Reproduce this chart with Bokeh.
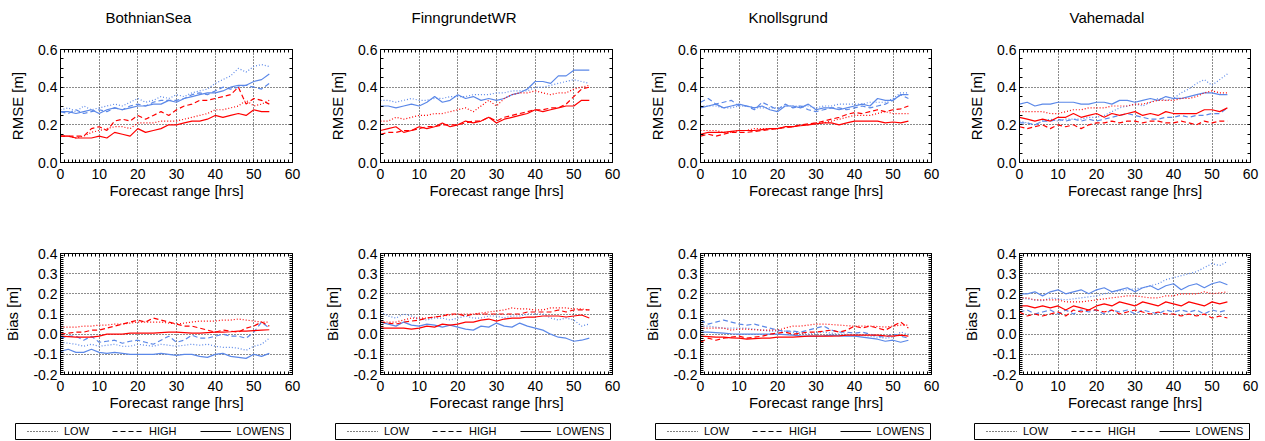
from bokeh.plotting import figure
from bokeh.models import (Range1d, LinearAxis, FixedTicker, PrintfTickFormatter,
                          CustomJSTickFormatter, Legend, LegendItem, ColumnDataSource)
from bokeh.layouts import column, row
from bokeh.embed import file_html
from bokeh.resources import INLINE

# ---------------- data ----------------
HOURS = [0, 2, 4, 6, 8, 10, 12, 14, 16, 18, 20, 22, 24, 26, 28, 30, 32, 34, 36, 38, 40, 42, 44, 46, 48, 50, 52, 54]
STATIONS = ["BothnianSea", "FinngrundetWR", "Knollsgrund", "Vahemadal"]
SERIES_LABELS = ["LOW", "HIGH", "LOWENS"]
X_TICKS = [0, 10, 20, 30, 40, 50, 60]
RMSE_TICKS = [0.0, 0.2, 0.4, 0.6]
BIAS_TICKS = [-0.2, -0.1, 0.0, 0.1, 0.2, 0.3, 0.4]

# BothnianSea
BS_RMSE_BLUE_LOW = [0.28,0.29,0.27,0.30,0.28,0.29,0.30,0.31,0.30,0.32,0.34,0.32,0.33,0.35,0.34,0.36,0.35,0.37,0.38,0.39,0.42,0.44,0.46,0.50,0.48,0.51,0.52,0.51]
BS_RMSE_BLUE_HIGH = [0.27,0.26,0.28,0.26,0.27,0.28,0.27,0.29,0.28,0.30,0.31,0.30,0.32,0.33,0.33,0.33,0.34,0.36,0.37,0.36,0.38,0.40,0.39,0.40,0.41,0.40,0.39,0.42]
BS_RMSE_BLUE_ENS = [0.27,0.27,0.26,0.27,0.28,0.26,0.28,0.29,0.28,0.29,0.30,0.30,0.31,0.31,0.33,0.32,0.34,0.35,0.36,0.37,0.37,0.38,0.40,0.41,0.41,0.43,0.44,0.47]
BS_RMSE_RED_LOW = [0.14,0.14,0.13,0.14,0.16,0.17,0.18,0.19,0.19,0.18,0.21,0.21,0.21,0.22,0.22,0.22,0.23,0.24,0.25,0.26,0.28,0.28,0.29,0.30,0.33,0.30,0.31,0.33]
BS_RMSE_RED_HIGH = [0.14,0.14,0.14,0.14,0.18,0.19,0.17,0.22,0.23,0.22,0.25,0.23,0.25,0.27,0.25,0.28,0.30,0.31,0.33,0.33,0.34,0.35,0.36,0.40,0.31,0.34,0.33,0.31]
BS_RMSE_RED_ENS = [0.14,0.14,0.13,0.13,0.13,0.14,0.13,0.16,0.15,0.14,0.18,0.16,0.17,0.18,0.20,0.20,0.21,0.22,0.22,0.23,0.25,0.24,0.25,0.26,0.25,0.28,0.27,0.27]
BS_BIAS_BLUE_LOW = [-0.04,-0.045,-0.05,-0.06,-0.05,-0.06,-0.055,-0.05,-0.06,-0.06,-0.05,-0.055,-0.06,-0.05,-0.055,-0.06,-0.055,-0.05,-0.055,-0.05,-0.06,-0.065,-0.065,-0.07,-0.08,-0.06,-0.05,-0.02]
BS_BIAS_BLUE_HIGH = [-0.02,-0.01,-0.01,-0.03,-0.01,-0.04,-0.035,-0.03,-0.045,-0.035,-0.03,-0.04,-0.05,-0.03,-0.01,-0.04,-0.03,-0.005,-0.02,-0.02,-0.01,0.0,-0.01,-0.01,-0.02,0.01,0.06,0.03]
BS_BIAS_BLUE_ENS = [-0.085,-0.075,-0.09,-0.09,-0.075,-0.09,-0.095,-0.09,-0.095,-0.10,-0.10,-0.10,-0.10,-0.095,-0.10,-0.105,-0.10,-0.10,-0.11,-0.115,-0.10,-0.095,-0.11,-0.115,-0.12,-0.10,-0.11,-0.095]
BS_BIAS_RED_LOW = [0.035,0.035,0.035,0.04,0.04,0.045,0.045,0.05,0.05,0.055,0.06,0.06,0.06,0.06,0.055,0.05,0.055,0.06,0.065,0.065,0.065,0.07,0.07,0.075,0.07,0.065,0.06,0.06]
BS_BIAS_RED_HIGH = [0.0,0.005,0.01,0.01,0.02,0.02,0.03,0.04,0.05,0.06,0.07,0.06,0.08,0.07,0.06,0.05,0.04,0.04,0.03,0.02,0.01,0.02,0.015,0.01,0.03,0.04,0.06,0.04]
BS_BIAS_RED_ENS = [-0.01,-0.012,-0.015,-0.015,-0.015,-0.01,0.0,0.0,0.0,0.005,0.005,0.005,0.005,0.008,0.01,0.01,0.008,0.005,0.005,0.008,0.01,0.01,0.012,0.015,0.015,0.018,0.02,0.022]

# FinngrundetWR
FG_RMSE_BLUE_LOW = [0.33,0.33,0.32,0.33,0.34,0.33,0.33,0.34,0.34,0.35,0.35,0.35,0.36,0.36,0.36,0.37,0.37,0.38,0.38,0.38,0.40,0.40,0.41,0.42,0.43,0.44,0.43,0.42]
FG_RMSE_BLUE_HIGH = None
FG_RMSE_BLUE_ENS = [0.30,0.30,0.29,0.30,0.31,0.30,0.32,0.35,0.32,0.33,0.36,0.34,0.35,0.33,0.34,0.33,0.34,0.36,0.37,0.39,0.43,0.43,0.42,0.46,0.46,0.49,0.49,0.49]
FG_RMSE_RED_LOW = [0.22,0.22,0.24,0.23,0.24,0.25,0.25,0.26,0.26,0.27,0.28,0.29,0.27,0.30,0.33,0.30,0.34,0.36,0.37,0.37,0.38,0.37,0.36,0.37,0.37,0.39,0.40,0.41]
FG_RMSE_RED_HIGH = [0.15,0.16,0.16,0.17,0.17,0.18,0.19,0.19,0.20,0.20,0.20,0.21,0.22,0.22,0.24,0.22,0.24,0.25,0.26,0.27,0.28,0.28,0.29,0.29,0.31,0.35,0.39,0.40]
FG_RMSE_RED_ENS = [0.17,0.18,0.19,0.16,0.17,0.19,0.18,0.19,0.21,0.19,0.20,0.22,0.21,0.22,0.24,0.21,0.23,0.24,0.25,0.26,0.28,0.27,0.28,0.29,0.30,0.30,0.33,0.33]
FG_BIAS_BLUE_LOW = [0.11,0.09,0.08,0.10,0.09,0.075,0.07,0.08,0.08,0.07,0.08,0.09,0.08,0.08,0.09,0.09,0.08,0.09,0.09,0.10,0.10,0.10,0.08,0.07,0.08,0.07,0.04,0.05]
FG_BIAS_BLUE_HIGH = None
FG_BIAS_BLUE_ENS = [0.06,0.05,0.04,0.06,0.045,0.04,0.05,0.045,0.035,0.045,0.035,0.025,0.02,0.04,0.035,0.055,0.04,0.035,0.055,0.04,0.03,0.02,0.0,-0.015,-0.02,-0.035,-0.03,-0.02]
FG_BIAS_RED_LOW = [0.06,0.06,0.06,0.07,0.08,0.08,0.08,0.085,0.09,0.095,0.10,0.10,0.10,0.105,0.11,0.115,0.12,0.13,0.125,0.125,0.12,0.12,0.13,0.13,0.13,0.125,0.125,0.12]
FG_BIAS_RED_HIGH = [0.06,0.055,0.05,0.06,0.065,0.07,0.08,0.085,0.09,0.10,0.10,0.09,0.10,0.10,0.10,0.10,0.10,0.10,0.10,0.11,0.11,0.11,0.11,0.12,0.11,0.12,0.12,0.12]
FG_BIAS_RED_ENS = [0.03,0.03,0.03,0.03,0.025,0.03,0.04,0.035,0.05,0.045,0.05,0.06,0.06,0.07,0.075,0.065,0.075,0.08,0.08,0.085,0.085,0.09,0.09,0.09,0.085,0.09,0.095,0.08]

# Knollsgrund
KG_RMSE_BLUE_LOW = [0.30,0.30,0.30,0.29,0.29,0.30,0.30,0.29,0.29,0.29,0.29,0.30,0.30,0.30,0.30,0.29,0.30,0.30,0.31,0.31,0.31,0.31,0.32,0.32,0.32,0.34,0.37,0.37]
KG_RMSE_BLUE_HIGH = [0.32,0.34,0.31,0.32,0.33,0.30,0.30,0.28,0.32,0.30,0.28,0.31,0.29,0.30,0.28,0.27,0.28,0.29,0.29,0.28,0.29,0.30,0.29,0.30,0.31,0.33,0.36,0.34]
KG_RMSE_BLUE_ENS = [0.29,0.30,0.31,0.29,0.30,0.31,0.30,0.29,0.30,0.28,0.27,0.30,0.30,0.29,0.31,0.28,0.29,0.29,0.28,0.29,0.30,0.31,0.30,0.34,0.33,0.33,0.36,0.36]
KG_RMSE_RED_LOW = [0.17,0.17,0.17,0.16,0.16,0.17,0.17,0.18,0.18,0.18,0.18,0.19,0.19,0.20,0.20,0.21,0.21,0.22,0.23,0.24,0.25,0.25,0.25,0.26,0.27,0.26,0.26,0.26]
KG_RMSE_RED_HIGH = [0.14,0.15,0.14,0.15,0.16,0.16,0.16,0.165,0.17,0.175,0.18,0.185,0.19,0.20,0.205,0.21,0.22,0.23,0.24,0.255,0.265,0.26,0.27,0.28,0.27,0.28,0.285,0.30]
KG_RMSE_RED_ENS = [0.15,0.16,0.16,0.16,0.165,0.17,0.17,0.17,0.175,0.18,0.18,0.19,0.19,0.195,0.20,0.205,0.21,0.21,0.20,0.21,0.22,0.22,0.22,0.22,0.21,0.215,0.21,0.22]
KG_BIAS_BLUE_LOW = [0.04,0.04,0.035,0.03,0.03,0.03,0.03,0.025,0.02,0.015,0.015,0.015,0.01,0.005,0.0,0.005,0.01,0.005,0.0,0.0,-0.005,-0.005,-0.01,-0.015,-0.02,-0.015,0.01,0.0]
KG_BIAS_BLUE_HIGH = [0.07,0.05,0.06,0.07,0.06,0.05,0.045,0.05,0.04,0.03,0.02,0.015,0.015,0.01,0.02,0.03,0.04,0.02,0.01,0.01,0.005,0.01,0.0,-0.01,-0.015,0.0,-0.01,-0.02]
KG_BIAS_BLUE_ENS = [0.01,0.01,0.008,0.005,0.002,0.0,0.0,0.0,0.0,0.0,0.0,-0.002,-0.005,-0.008,-0.01,-0.01,-0.008,-0.005,-0.008,-0.01,-0.01,-0.015,-0.02,-0.025,-0.035,-0.03,-0.04,-0.03]
KG_BIAS_RED_LOW = [0.03,0.03,0.03,0.03,0.02,0.025,0.025,0.022,0.02,0.02,0.02,0.03,0.04,0.04,0.045,0.05,0.05,0.048,0.045,0.042,0.04,0.04,0.04,0.038,0.035,0.04,0.045,0.045]
KG_BIAS_RED_HIGH = [-0.04,-0.02,-0.03,-0.02,-0.015,-0.01,-0.02,-0.015,-0.01,0.0,0.005,0.01,0.0,0.005,0.01,0.01,0.015,0.02,0.01,0.02,0.04,0.03,0.04,0.03,0.02,0.04,0.06,0.03]
KG_BIAS_RED_ENS = [-0.01,-0.012,-0.015,-0.015,-0.018,-0.02,-0.025,-0.022,-0.02,-0.02,-0.015,-0.015,-0.015,-0.012,-0.01,-0.01,-0.01,-0.01,-0.008,-0.005,-0.005,-0.005,-0.005,-0.005,-0.008,-0.01,-0.005,-0.01]

# Vahemadal
VM_RMSE_BLUE_LOW = [0.22,0.21,0.20,0.22,0.23,0.22,0.23,0.23,0.23,0.24,0.24,0.25,0.27,0.29,0.30,0.31,0.30,0.32,0.34,0.33,0.34,0.37,0.39,0.42,0.44,0.41,0.44,0.47]
VM_RMSE_BLUE_HIGH = [0.21,0.21,0.20,0.22,0.22,0.23,0.22,0.23,0.22,0.23,0.22,0.23,0.24,0.25,0.26,0.25,0.24,0.23,0.23,0.24,0.24,0.25,0.24,0.25,0.25,0.26,0.26,0.29]
VM_RMSE_BLUE_ENS = [0.31,0.32,0.30,0.31,0.31,0.32,0.32,0.32,0.31,0.31,0.32,0.32,0.31,0.33,0.33,0.32,0.33,0.34,0.33,0.35,0.34,0.34,0.35,0.36,0.37,0.37,0.36,0.36]
VM_RMSE_RED_LOW = [0.27,0.27,0.27,0.27,0.26,0.26,0.27,0.28,0.28,0.29,0.29,0.29,0.30,0.30,0.30,0.31,0.31,0.32,0.33,0.33,0.33,0.34,0.34,0.35,0.37,0.38,0.37,0.37]
VM_RMSE_RED_HIGH = [0.19,0.18,0.19,0.20,0.18,0.20,0.19,0.20,0.18,0.20,0.21,0.21,0.22,0.21,0.22,0.22,0.21,0.22,0.22,0.21,0.21,0.22,0.21,0.20,0.22,0.21,0.22,0.22]
VM_RMSE_RED_ENS = [0.24,0.23,0.22,0.23,0.22,0.24,0.24,0.26,0.24,0.25,0.26,0.24,0.26,0.25,0.26,0.27,0.25,0.26,0.25,0.27,0.26,0.26,0.26,0.26,0.28,0.28,0.27,0.29]
VM_BIAS_BLUE_LOW = [0.18,0.175,0.17,0.165,0.18,0.175,0.17,0.175,0.18,0.185,0.19,0.20,0.21,0.215,0.22,0.225,0.23,0.24,0.25,0.27,0.28,0.29,0.30,0.31,0.33,0.35,0.34,0.36]
VM_BIAS_BLUE_HIGH = [0.11,0.12,0.10,0.11,0.12,0.10,0.12,0.10,0.12,0.11,0.12,0.10,0.12,0.11,0.12,0.10,0.12,0.11,0.10,0.12,0.11,0.12,0.11,0.12,0.10,0.12,0.11,0.12]
VM_BIAS_BLUE_ENS = [0.20,0.20,0.21,0.19,0.21,0.22,0.20,0.21,0.22,0.20,0.22,0.23,0.21,0.22,0.23,0.21,0.23,0.24,0.22,0.24,0.25,0.22,0.24,0.25,0.23,0.25,0.26,0.245]
VM_BIAS_RED_LOW = [0.18,0.18,0.17,0.17,0.17,0.17,0.16,0.16,0.16,0.165,0.17,0.175,0.18,0.185,0.19,0.19,0.185,0.18,0.18,0.19,0.19,0.20,0.20,0.20,0.21,0.20,0.205,0.21]
VM_BIAS_RED_HIGH = [0.11,0.09,0.10,0.09,0.10,0.11,0.09,0.12,0.11,0.12,0.12,0.11,0.12,0.10,0.11,0.12,0.11,0.10,0.11,0.10,0.10,0.09,0.10,0.09,0.10,0.08,0.09,0.08]
VM_BIAS_RED_ENS = [0.14,0.14,0.13,0.14,0.13,0.14,0.12,0.14,0.13,0.12,0.14,0.15,0.14,0.16,0.15,0.14,0.16,0.15,0.14,0.16,0.15,0.14,0.16,0.15,0.14,0.16,0.15,0.16]

PANELS = {
    "BothnianSea": {
        "rmse": {"blue": [BS_RMSE_BLUE_LOW, BS_RMSE_BLUE_HIGH, BS_RMSE_BLUE_ENS],
                 "red": [BS_RMSE_RED_LOW, BS_RMSE_RED_HIGH, BS_RMSE_RED_ENS]},
        "bias": {"blue": [BS_BIAS_BLUE_LOW, BS_BIAS_BLUE_HIGH, BS_BIAS_BLUE_ENS],
                 "red": [BS_BIAS_RED_LOW, BS_BIAS_RED_HIGH, BS_BIAS_RED_ENS]}},
    "FinngrundetWR": {
        "rmse": {"blue": [FG_RMSE_BLUE_LOW, FG_RMSE_BLUE_HIGH, FG_RMSE_BLUE_ENS],
                 "red": [FG_RMSE_RED_LOW, FG_RMSE_RED_HIGH, FG_RMSE_RED_ENS]},
        "bias": {"blue": [FG_BIAS_BLUE_LOW, FG_BIAS_BLUE_HIGH, FG_BIAS_BLUE_ENS],
                 "red": [FG_BIAS_RED_LOW, FG_BIAS_RED_HIGH, FG_BIAS_RED_ENS]}},
    "Knollsgrund": {
        "rmse": {"blue": [KG_RMSE_BLUE_LOW, KG_RMSE_BLUE_HIGH, KG_RMSE_BLUE_ENS],
                 "red": [KG_RMSE_RED_LOW, KG_RMSE_RED_HIGH, KG_RMSE_RED_ENS]},
        "bias": {"blue": [KG_BIAS_BLUE_LOW, KG_BIAS_BLUE_HIGH, KG_BIAS_BLUE_ENS],
                 "red": [KG_BIAS_RED_LOW, KG_BIAS_RED_HIGH, KG_BIAS_RED_ENS]}},
    "Vahemadal": {
        "rmse": {"blue": [VM_RMSE_BLUE_LOW, VM_RMSE_BLUE_HIGH, VM_RMSE_BLUE_ENS],
                 "red": [VM_RMSE_RED_LOW, VM_RMSE_RED_HIGH, VM_RMSE_RED_ENS]},
        "bias": {"blue": [VM_BIAS_BLUE_LOW, VM_BIAS_BLUE_HIGH, VM_BIAS_BLUE_ENS],
                 "red": [VM_BIAS_RED_LOW, VM_BIAS_RED_HIGH, VM_BIAS_RED_ENS]}},
}

# ---------------- style ----------------
FONT = "Liberation Sans"
COLORS = {"blue": "#5b88e8", "red": "#ff0000"}
DASHES = ["1 2", "5 3", "solid"]
COL_WIDTHS = [320, 320, 319, 306]
FRAME_W = [232, 232, 231, 231]
TITLE_OFFSET = [45, 31, 48, 50]

X_MINOR = list(range(0, 61))
RMSE_MINOR = [round(0.05 * i, 2) for i in range(13)]
BIAS_MINOR = [round(-0.2 + 0.01 * i, 2) for i in range(61)]


def style_axis(ax, show_labels):
    ax.axis_line_color = "black"
    ax.axis_line_width = 1
    ax.major_tick_in = 0
    ax.major_tick_out = 0
    ax.minor_tick_in = 3
    ax.minor_tick_out = 0
    ax.minor_tick_line_color = "black"
    ax.minor_tick_line_width = 1
    if show_labels:
        ax.major_label_text_font = FONT
        ax.major_label_text_font_size = "14px"
        ax.major_label_text_color = "black"
        ax.axis_label_text_font = FONT
        ax.axis_label_text_font_size = "15px"
        ax.axis_label_text_font_style = "normal"
        ax.axis_label_text_color = "black"
    else:
        ax.formatter = CustomJSTickFormatter(code="return ''")
        ax.major_label_text_font_size = "0px"
        ax.major_label_standoff = 0


def make_panel(col, metric):
    station = STATIONS[col]
    w = COL_WIDTHS[col]
    if metric == "rmse":
        h, top, fh = 215, 49, 113
        yr = (0.0, 0.6)
        yt = FixedTicker(ticks=RMSE_TICKS, minor_ticks=RMSE_MINOR)
        ylabel = "RMSE [m]"
    else:
        h, top, fh = 200, 38, 121
        yr = (-0.2, 0.4)
        yt = FixedTicker(ticks=BIAS_TICKS, minor_ticks=BIAS_MINOR)
        ylabel = "Bias [m]"
    xt = FixedTicker(ticks=X_TICKS, minor_ticks=X_MINOR)
    p = figure(width=w, height=h, x_range=Range1d(0, 60), y_range=Range1d(*yr),
               output_backend="svg", toolbar_location=None,
               min_border_left=60, min_border_right=w - 60 - FRAME_W[col],
               min_border_top=top, min_border_bottom=h - top - fh,
               x_axis_label="Forecast range [hrs]", y_axis_label=ylabel)
    p.background_fill_color = "white"
    p.border_fill_color = "white"
    p.outline_line_color = "black"
    p.outline_line_width = 1

    p.xaxis.ticker = xt
    p.yaxis.ticker = yt
    p.xaxis.formatter = PrintfTickFormatter(format="%d")
    p.yaxis.formatter = PrintfTickFormatter(format="%.1f")
    for ax in p.xaxis:
        style_axis(ax, True)
        ax.major_label_standoff = 6
        ax.axis_label_standoff = 0
    for ax in p.yaxis:
        style_axis(ax, True)
        ax.major_label_standoff = 3
        ax.axis_label_standoff = 9

    right = LinearAxis(ticker=yt)
    style_axis(right, False)
    p.add_layout(right, "right")
    above = LinearAxis(ticker=xt)
    style_axis(above, False)
    if metric == "rmse":
        # invisible outward major ticks only reserve room between title and frame
        above.major_tick_out = 19
        above.major_tick_line_color = None
    p.add_layout(above, "above")

    p.xgrid.ticker = xt
    p.ygrid.ticker = yt
    for g in (p.xgrid, p.ygrid):
        g.grid_line_color = "black"
        g.grid_line_dash = "1 2"
        g.grid_line_width = 1
        g.grid_line_alpha = 0.9

    if metric == "rmse":
        p.title.text = station
        p.title.align = "left"
        p.title.offset = TITLE_OFFSET[col]
        p.title.text_font = FONT
        p.title.text_font_size = "15px"
        p.title.text_font_style = "normal"
        p.title.text_color = "black"

    for color in ("blue", "red"):
        for vals, dash in zip(PANELS[station][metric][color], DASHES):
            if vals is None:
                continue
            p.line(x=HOURS, y=vals, line_color=COLORS[color], line_width=1.2, line_dash=dash)
    return p


def make_legend(col):
    w = COL_WIDTHS[col]
    p = figure(width=w, height=26, output_backend="svg", toolbar_location=None,
               x_axis_type=None, y_axis_type=None,
               min_border_left=15, min_border_right=w - 15 - 275,
               min_border_top=8, min_border_bottom=2)
    p.outline_line_color = "black"
    p.outline_line_width = 1
    p.background_fill_color = "white"
    p.border_fill_color = "white"
    items = []
    for label, dash in zip(SERIES_LABELS, DASHES):
        src = ColumnDataSource(data=dict(x=[float("nan")], y=[float("nan")]))
        r = p.line(x="x", y="y", source=src, line_color="black", line_width=1, line_dash=dash)
        items.append(LegendItem(label=label, renderers=[r]))
    leg = Legend(items=items, orientation="horizontal", location="left",
                 margin=12, padding=4, spacing=23, glyph_width=31, label_standoff=6,
                 label_text_font=FONT, label_text_font_size="11px", label_text_color="black",
                 border_line_color=None, background_fill_alpha=0)
    p.add_layout(leg)
    return p


rmse_row = row([make_panel(i, "rmse") for i in range(4)])
bias_row = row([make_panel(i, "bias") for i in range(4)])
legend_row = row([make_legend(i) for i in range(4)])
layout = column(rmse_row, bias_row, legend_row)

open("out.html", "w").write(file_html(layout, INLINE))
